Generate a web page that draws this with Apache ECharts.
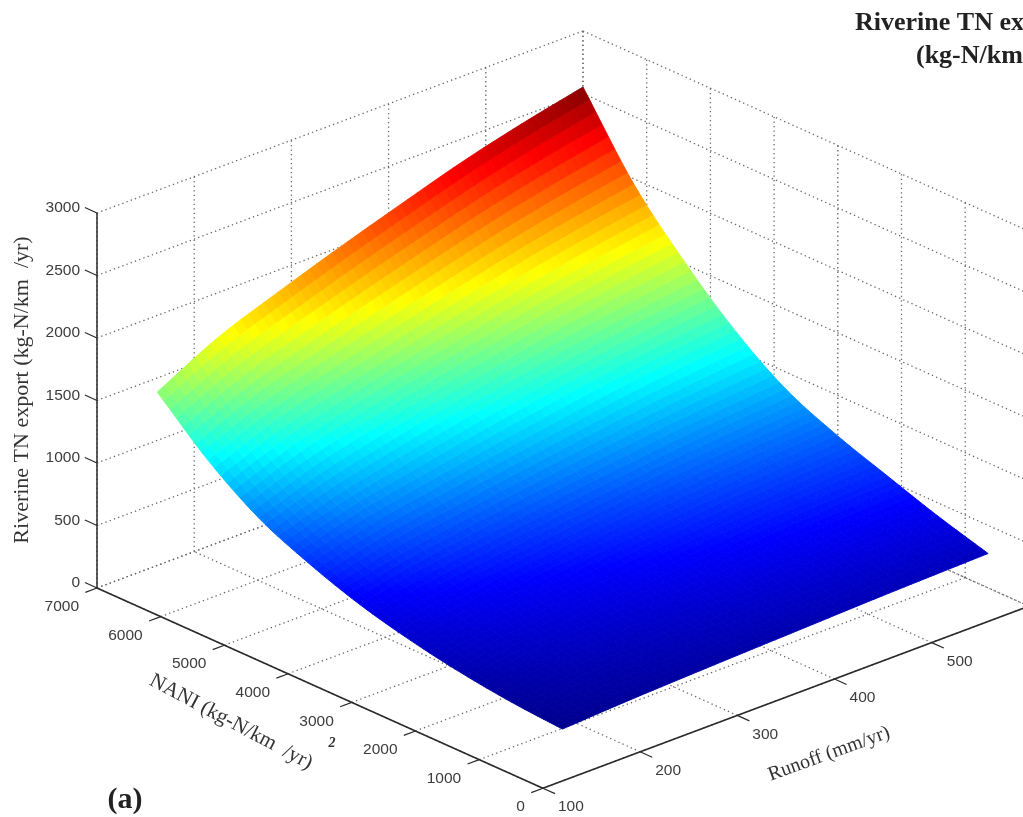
<!DOCTYPE html>
<html>
<head>
<meta charset="utf-8">
<style>
html,body{margin:0;padding:0;background:#fff;overflow:hidden}
#c{width:1023px;height:817px;filter:blur(0.45px)}
</style>
<script src="https://cdn.jsdelivr.net/npm/echarts@6/dist/echarts.min.js"></script>
</head>
<body>
<div id="c"></div>
<script>
// ---- Data ----
const runoffTicks = [100, 200, 300, 400, 500, 600];
const runoffLabels = [100, 200, 300, 400, 500];
const naniTicks = [0, 1000, 2000, 3000, 4000, 5000, 6000, 7000];
const tnTicks = [0, 500, 1000, 1500, 2000, 2500, 3000];

const runoffNodes = [162, 225, 287, 350, 412, 475, 537, 600];
const naniNodes = [640, 1435, 2230, 3025, 3820, 4615, 5410, 6205, 7000];
const tnR162 = [146, 178, 232, 310, 415, 560, 745, 1025, 1387];
const tnR225 = [174, 226, 299, 391, 514, 690, 916, 1231, 1643];
const tnR287 = [195, 260, 346, 449, 585, 782, 1037, 1378, 1826];
const tnR350 = [214, 292, 391, 504, 651, 870, 1152, 1516, 1999];
const tnR412 = [231, 322, 433, 555, 713, 951, 1258, 1644, 2158];
const tnR475 = [249, 351, 473, 604, 773, 1029, 1361, 1768, 2313];
const tnR537 = [263, 374, 506, 645, 822, 1094, 1446, 1871, 2441];
const tnR600 = [275, 395, 535, 680, 865, 1150, 1520, 1960, 2552];
const tnTable = [tnR162, tnR225, tnR287, tnR350, tnR412, tnR475, tnR537, tnR600];

// ---- View (orthographic, as in the figure) ----
function project(r, n, z) {
  const dr = r - 100, dn = 7000 - n;
  return [97 + 0.972 * dr + 0.0637 * dn, 588 - 0.364 * dr + 0.0286 * dn - 0.125 * z];
}

const JET = [[0, 0, 0, 143], [0.125, 0, 0, 255], [0.375, 0, 255, 255], [0.625, 255, 255, 0], [0.875, 255, 0, 0], [1, 128, 0, 0]];
function jet(t) {
  t = Math.max(0, Math.min(1, t));
  for (let i = 1; i < JET.length; i++) {
    if (t <= JET[i][0]) {
      const a = JET[i - 1], b = JET[i], f = (t - a[0]) / (b[0] - a[0]);
      return 'rgb(' + [1, 2, 3].map(k => Math.round(a[k] + (b[k] - a[k]) * f)).join(',') + ')';
    }
  }
  return 'rgb(128,0,0)';
}
const tnMin = 146, tnMax = 2552, SHADE = 8;

// Smooth (interp-style) shading of the surface between the read nodes
function node(i, j) {
  const I = runoffNodes.length - 1, J = naniNodes.length - 1;
  if (i < 0) return 2 * node(0, j) - node(1, j);
  if (i > I) return 2 * node(I, j) - node(I - 1, j);
  if (j < 0) return 2 * node(i, 0) - node(i, 1);
  if (j > J) return 2 * node(i, J) - node(i, J - 1);
  return tnTable[i][j];
}
function cr(a, b, c, d, t) {
  return 0.5 * (2 * b + (c - a) * t + (2 * a - 5 * b + 4 * c - d) * t * t + (3 * b - a - 3 * c + d) * t * t * t);
}
function surfaceZ(i, j, u, v) {
  const rows = [-1, 0, 1, 2].map(dj => cr(node(i - 1, j + dj), node(i, j + dj), node(i + 1, j + dj), node(i + 2, j + dj), u));
  return cr(rows[0], rows[1], rows[2], rows[3], v);
}
function shadePatch(i, j, api) {
  const children = [];
  const r0 = runoffNodes[i], r1 = runoffNodes[i + 1], n0 = naniNodes[j], n1 = naniNodes[j + 1];
  const at = (u, v) => {
    const z = surfaceZ(i, j, u, v);
    return { p: api.coord(project(r0 + (r1 - r0) * u, n0 + (n1 - n0) * v, z)), z };
  };
  for (let a = 0; a < SHADE; a++) for (let b = 0; b < SHADE; b++) {
    const A = at(a / SHADE, b / SHADE), B = at((a + 1) / SHADE, b / SHADE),
      C = at((a + 1) / SHADE, (b + 1) / SHADE), D = at(a / SHADE, (b + 1) / SHADE);
    const col = jet(((A.z + B.z + C.z + D.z) / 4 - tnMin) / (tnMax - tnMin));
    children.push({ type: 'polygon', shape: { points: [A.p, B.p, C.p, D.p] }, style: { fill: col, stroke: col, lineWidth: 0.9 } });
  }
  return { type: 'group', children };
}

// Box lines
const R0 = 100, R1 = 600, N0 = 0, N1 = 7000, Z0 = 0, Z1 = 3000;
const gridSegs = [];
runoffTicks.forEach(r => {
  gridSegs.push([r, N0, Z0, r, N1, Z0]);
  gridSegs.push([r, N1, Z0, r, N1, Z1]);
});
naniTicks.forEach(n => {
  gridSegs.push([R0, n, Z0, R1, n, Z0]);
  gridSegs.push([R1, n, Z0, R1, n, Z1]);
});
tnTicks.forEach(z => {
  gridSegs.push([R0, N1, z, R1, N1, z]);
  gridSegs.push([R1, N1, z, R1, N0, z]);
});
const axisSegs = [
  [R0, N1, Z0, R0, N1, Z1],
  [R0, N0, Z0, R0, N1, Z0],
  [R0, N0, Z0, R1, N0, Z0]
];
const tickSegs = [];
tnTicks.forEach(z => tickSegs.push([R0, N1, z, R0, N1 + 190, z]));
naniTicks.forEach(n => tickSegs.push([R0, n, Z0, R0 - 12, n, Z0]));
runoffTicks.forEach(r => tickSegs.push([r, N0, Z0, r, N0 - 190, Z0]));

// Tick labels
const tickTexts = [];
tnTicks.forEach(z => { const p = project(R0, N1, z); tickTexts.push({ t: z, x: p[0] - 17, y: p[1] - 5, a: 'right' }); });
naniTicks.forEach(n => { const p = project(R0, n, Z0); tickTexts.push({ t: n, x: p[0] - 18, y: p[1] + 19, a: 'right' }); });
runoffLabels.forEach(r => { const p = project(r, N0, Z0); tickTexts.push({ t: r, x: p[0] + 28, y: p[1] + 19, a: 'center' }); });

function segSeries(name, segs, style, z) {
  return {
    name, type: 'custom', coordinateSystem: 'cartesian2d', silent: true, clip: false, z,
    data: segs.map((s, i) => [i]),
    renderItem: (params, api) => {
      const s = segs[params.dataIndex];
      const a = api.coord(project(s[0], s[1], s[2])), b = api.coord(project(s[3], s[4], s[5]));
      return { type: 'line', shape: { x1: a[0], y1: a[1], x2: b[0], y2: b[1] }, style };
    }
  };
}

const patchList = [];
for (let i = 0; i < runoffNodes.length - 1; i++) for (let j = 0; j < naniNodes.length - 1; j++) patchList.push([i, j]);

const serif = '"Liberation Serif","Times New Roman",serif';
const sans = '"Liberation Sans",Arial,sans-serif';
const deg = Math.PI / 180;

const option = {
  animation: false,
  backgroundColor: '#fff',
  grid: { left: 0, right: 0, top: 0, bottom: 0 },
  xAxis: { type: 'value', min: 0, max: 1023, show: false },
  yAxis: { type: 'value', min: 0, max: 817, inverse: true, show: false },
  series: [
    segSeries('grid', gridSegs, { stroke: '#666', lineWidth: 1.3, lineDash: [1.3, 3.2], fill: null }, 1),
    segSeries('axes', axisSegs, { stroke: '#2a2a2a', lineWidth: 1.5, fill: null }, 2),
    segSeries('ticks', tickSegs, { stroke: '#2a2a2a', lineWidth: 1.2, fill: null }, 2),
    {
      name: 'Riverine TN export', type: 'custom', coordinateSystem: 'cartesian2d', silent: true, clip: false, z: 3,
      data: patchList,
      renderItem: (params, api) => shadePatch(patchList[params.dataIndex][0], patchList[params.dataIndex][1], api)
    },
    {
      name: 'tickLabels', type: 'custom', coordinateSystem: 'cartesian2d', silent: true, clip: false, z: 4,
      data: tickTexts.map((t, i) => [i]),
      renderItem: (params, api) => {
        const t = tickTexts[params.dataIndex], p = api.coord([t.x, t.y]);
        return { type: 'text', style: { text: String(t.t), x: p[0], y: p[1], align: t.a, verticalAlign: 'middle', font: '15.5px ' + sans, fill: '#3c3c3c' } };
      }
    }
  ],
  graphic: [
    { type: 'text', x: 22, y: 390, rotation: 90 * deg, style: { text: 'Riverine TN export (kg-N/km  /yr)', align: 'center', verticalAlign: 'middle', font: '22px ' + serif, fill: '#333' } },
    { type: 'text', x: 231, y: 722, rotation: -28 * deg, style: { text: 'NANI (kg-N/km  /yr)', align: 'center', verticalAlign: 'middle', font: '21px ' + serif, fill: '#333' } },
    { type: 'text', x: 332, y: 743, style: { text: '2', align: 'center', verticalAlign: 'middle', font: 'italic bold 14px ' + serif, fill: '#333' } },
    { type: 'text', x: 829, y: 754, rotation: 20 * deg, style: { text: 'Runoff (mm/yr)', align: 'center', verticalAlign: 'middle', font: '20px ' + serif, fill: '#333' } },
    { type: 'text', x: 125, y: 800, style: { text: '(a)', align: 'center', verticalAlign: 'middle', font: 'bold 30px ' + serif, fill: '#222' } },
    { type: 'text', x: 855, y: 23, style: { text: 'Riverine TN ex', align: 'left', verticalAlign: 'middle', font: 'bold 26px ' + serif, fill: '#222' } },
    { type: 'text', x: 916, y: 56, style: { text: '(kg-N/km', align: 'left', verticalAlign: 'middle', font: 'bold 26px ' + serif, fill: '#222' } }
  ]
};
const chart = echarts.init(document.getElementById('c'), null, { renderer: 'canvas' });
chart.setOption(option);
</script>
</body>
</html>
